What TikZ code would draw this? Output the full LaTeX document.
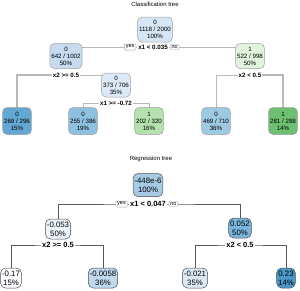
\documentclass[tikz,border=0pt]{standalone}
\usepackage{fontspec}
\setmainfont{Liberation Sans}
\usetikzlibrary{backgrounds}
\definecolor{cRoot}{HTML}{D6E6F4}
\definecolor{cL}{HTML}{C6DBEF}
\definecolor{cN}{HTML}{DCE9F6}
\definecolor{cA}{HTML}{63A8D3}
\definecolor{cB}{HTML}{8EC1E0}
\definecolor{cC}{HTML}{B5E1AE}
\definecolor{cR}{HTML}{E3F4DE}
\definecolor{cD}{HTML}{9DCAE3}
\definecolor{cE}{HTML}{6CC070}
\definecolor{rRoot}{HTML}{A6CBE4}
\definecolor{rL}{HTML}{EDF4FB}
\definecolor{rR}{HTML}{7AB6DB}
\definecolor{rF}{HTML}{FAFCFF}
\definecolor{rG}{HTML}{C1D9EE}
\definecolor{rH}{HTML}{DCEAF6}
\definecolor{rI}{HTML}{4A98C9}
\begin{document}
\begin{tikzpicture}[x=1pt,y=-1pt,
  cnode/.style={draw=gray!75, line width=0.5pt, rounded corners=4.5pt, align=center,
    font=\fontsize{6.2}{7.1}\selectfont, inner xsep=1.5pt, inner ysep=1.5pt, minimum height=25pt},
  rnode/.style={draw=black!70, line width=0.5pt, rounded corners=5pt, align=center,
    font=\fontsize{7.8}{8.8}\selectfont, inner xsep=1.5pt, inner ysep=1.5pt, minimum height=20pt},
  title/.style={font=\fontsize{6}{7}\selectfont, inner sep=0pt},
  csplit/.style={fill=white, inner xsep=1pt, inner ysep=0.5pt, font=\bfseries\fontsize{6.2}{7}\selectfont},
  rsplit/.style={fill=white, inner xsep=1pt, inner ysep=0.5pt, font=\bfseries\fontsize{7.5}{8}\selectfont},
  yn/.style={draw=gray!70, fill=white, line width=0.4pt, rounded corners=1pt, inner xsep=1.5pt, inner ysep=1pt, font=\fontsize{5.5}{6}\selectfont},
  cline/.style={draw=gray!55},
  rline/.style={draw=black!65, line width=0.6pt}
]
\useasboundingbox (0,0) rectangle (300,290);

% ---------- Classification tree ----------
\node[title] (t1) at (155,4.5) {Classification tree};
\node[cnode, fill=cRoot] (c0) at (155,29.5) {0\\1118 / 2000\\100\%};
\node[csplit] (s0) at (153,47) {x1 < 0.035};
\node[yn, anchor=east] (y0) at ([xshift=-1pt]s0.west) {yes};
\node[yn, anchor=west] (n0) at ([xshift=1pt]s0.east) {no};

\node[cnode, fill=cL] (c1) at (66,56) {0\\642 / 1002\\50\%};
\node[cnode, fill=cR] (c2) at (250,56) {1\\522 / 998\\50\%};
\node[csplit] (s1) at (66,75) {x2 >= 0.5};
\node[csplit] (s3) at (250,75) {x2 < 0.5};
\node[cnode, fill=cN, minimum height=24pt] (c3) at (116,85) {0\\373 / 706\\35\%};
\node[csplit] (s2) at (116,103) {x1 >= -0.72};

\node[cnode, fill=cA, minimum height=27pt] (la) at (17,121) {0\\269 / 296\\15\%};
\node[cnode, fill=cB, minimum height=27pt] (lb) at (83,121) {0\\255 / 386\\19\%};
\node[cnode, fill=cC, minimum height=27pt] (lc) at (149,121) {1\\202 / 320\\16\%};
\node[cnode, fill=cD, minimum height=27pt] (ld) at (216,121) {0\\469 / 710\\36\%};
\node[cnode, fill=cE, minimum height=27pt] (le) at (283,121) {1\\281 / 288\\14\%};

\begin{scope}[on background layer]
  \draw[cline, line width=0.9pt] (c1.center) |- (s0.center);
  \draw[cline, line width=0.9pt] (s0.center) -| (c2.center);
  \draw[cline, line width=1.7pt] (la.center) |- (s1.center);
  \draw[cline, line width=0.9pt] (s1.center) -| (c3.center);
  \draw[cline, line width=0.8pt] (lb.center) |- (s2.center);
  \draw[cline, line width=0.8pt] (s2.center) -| (lc.center);
  \draw[cline, line width=1.0pt] (ld.center) |- (s3.center);
  \draw[cline, line width=1.7pt] (s3.center) -| (le.center);
\end{scope}

% ---------- Regression tree ----------
\node[title] (t2) at (151,159) {Regression tree};
\node[rnode, fill=rRoot, minimum height=23pt] (r0) at (148,185) {-448e-6\\100\%};
\node[rsplit] (s4) at (148,204) {x1 < 0.047};
\node[yn, anchor=east] (y4) at ([xshift=-1.5pt]s4.west) {yes};
\node[yn, anchor=west] (n4) at ([xshift=1.5pt]s4.east) {no};

\node[rnode, fill=rL] (r1) at (58,229) {-0.053\\50\%};
\node[rnode, fill=rR] (r2) at (240,228) {0.052\\50\%};
\node[rsplit] (s5) at (58,245) {x2 >= 0.5};
\node[rsplit] (s6) at (240,245) {x2 < 0.5};

\node[rnode, fill=rF] (rf) at (11,278) {-0.17\\15\%};
\node[rnode, fill=rG] (rg) at (103,278) {-0.0058\\36\%};
\node[rnode, fill=rH] (rh) at (195,278) {-0.021\\35\%};
\node[rnode, fill=rI] (ri) at (286,278) {0.23\\14\%};

\begin{scope}[on background layer]
  \draw[rline] (r1.center) |- (s4.center) -| (r2.center);
  \draw[rline] (rf.center) |- (s5.center) -| (rg.center);
  \draw[rline] (rh.center) |- (s6.center) -| (ri.center);
\end{scope}
\end{tikzpicture}
\end{document}
